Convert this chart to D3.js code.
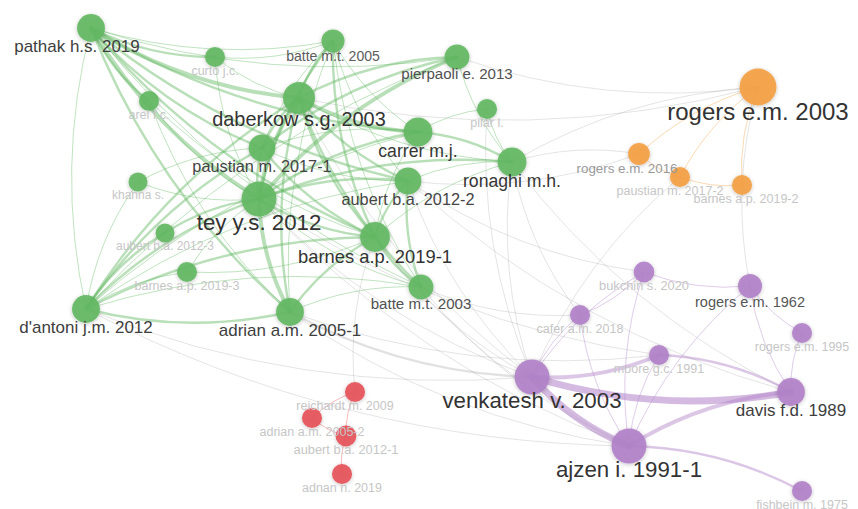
<!DOCTYPE html>
<html>
<head>
<meta charset="utf-8">
<script src="https://cdn.jsdelivr.net/npm/d3@7"></script>
<style>
  body { margin: 0; background: #fff; }
  svg { display: block; }
</style>
</head>
<body>
<div id="wrapper"></div>
<script>
// 1. Data (co-citation map, VOSviewer style)

const nodeIds = ["pathak","curto","batte05","pierpaoli","arel","daberkow","pilar","carrer","paustian1","ronaghi",
  "aubert2","khanna","tey","aubert3","barnes1","barnes3","batte03","dantoni","adrian1",
  "rogers03","rogers16","paustian2","barnes2",
  "bukchin","rogers62","cafer","rogers95","moore","venkatesh","davis","ajzen","fishbein",
  "reichardt","adrian2","aubert1","adnan"];

const nodeLabels = ["pathak h.s. 2019","curto j.c.","batte m.t. 2005","pierpaoli e. 2013","arel f.c.","daberkow s.g. 2003","pilar l.","carrer m.j.","paustian m. 2017-1","ronaghi m.h.",
  "aubert b.a. 2012-2","khanna s.","tey y.s. 2012","aubert b.a. 2012-3","barnes a.p. 2019-1","barnes a.p. 2019-3","batte m.t. 2003","d'antoni j.m. 2012","adrian a.m. 2005-1",
  "rogers e.m. 2003","rogers e.m. 2016","paustian m. 2017-2","barnes a.p. 2019-2",
  "bukchin s. 2020","rogers e.m. 1962","cafer a.m. 2018","rogers e.m. 1995","moore g.c. 1991","venkatesh v. 2003","davis f.d. 1989","ajzen i. 1991-1","fishbein m. 1975",
  "reichardt m. 2009","adrian a.m. 2005-2","aubert b.a. 2012-1","adnan n. 2019"];

const nodeCluster = [2,2,2,2,2,2,2,2,2,2, 2,2,2,2,2,2,2,2,2, 3,3,3,3, 4,4,4,4,4,4,4,4,4, 1,1,1,1];

// layout coordinates
const layoutX = [91,215,333,457,149,299,487,418,262,512, 408,138,259,165,375,187,421,86,290, 758,639,680,742, 644,750,580,802,659,532,791,629,802, 355,312,346,342];
const layoutY = [28,57,41,57,101,98,109,132,148,162, 181,182,199,233,237,272,287,309,312, 87,154,177,185, 272,286,315,333,355,377,392,446,491, 392,418,436,474];

const citations = [54,28,37,43,28,71,28,58,50,58, 50,25,85,25,62,28,43,54,54, 95,33,28,28, 30,40,28,28,28,85,54,85,28, 28,28,30,28];

const links = [
  // green cluster
  ["pathak","curto",2],["pathak","daberkow",3],["pathak","tey",3],["pathak","paustian1",2],["pathak","dantoni",1],
  ["pathak","arel",2],["pathak","carrer",2],["pathak","aubert2",2],["pathak","barnes1",2],["pathak","adrian1",2],
  ["pathak","batte05",1],["pathak","batte03",1],["pathak","pierpaoli",1],
  ["curto","daberkow",1],["curto","batte05",1],["curto","tey",1],
  ["batte05","daberkow",2],["batte05","tey",2],["batte05","paustian1",1],["batte05","barnes1",2],["batte05","aubert2",1],
  ["batte05","batte03",1],["batte05","adrian1",1],["batte05","carrer",1],
  ["pierpaoli","tey",3],["pierpaoli","daberkow",2],["pierpaoli","paustian1",2],["pierpaoli","dantoni",1],["pierpaoli","ronaghi",1],
  ["arel","tey",1],["arel","barnes1",1],["arel","adrian1",1],
  ["daberkow","carrer",3],["daberkow","tey",3],["daberkow","paustian1",2],["daberkow","aubert2",2],["daberkow","barnes1",2],
  ["daberkow","adrian1",2],["daberkow","dantoni",2],["daberkow","batte03",2],["daberkow","ronaghi",1],
  ["carrer","tey",2],["carrer","paustian1",1],["ronaghi","carrer",2],["carrer","barnes1",1],["carrer","dantoni",1],
  ["paustian1","tey",2],["paustian1","barnes1",2],["paustian1","dantoni",2],["paustian1","aubert2",1],["paustian1","khanna",1],
  ["ronaghi","tey",2],["ronaghi","aubert2",1],["ronaghi","barnes1",1],
  ["aubert2","tey",2],["aubert2","barnes1",2],["aubert2","batte03",2],["aubert2","dantoni",1],
  ["khanna","tey",1],["khanna","dantoni",1],
  ["tey","barnes1",2],["tey","adrian1",3],["tey","dantoni",2],["tey","aubert3",2],["tey","barnes3",1],["tey","batte03",1],
  ["aubert3","dantoni",2],["barnes3","dantoni",1],["barnes3","barnes1",1],
  ["barnes1","batte03",2],["barnes1","adrian1",2],["barnes1","dantoni",2],
  ["batte03","adrian1",1],["batte03","dantoni",1],["dantoni","adrian1",2],
  // orange cluster
  ["pierpaoli","rogers03",1],["daberkow","rogers03",1],["rogers03","rogers16",1],["rogers03","paustian2",1],["rogers03","barnes2",1],
  ["rogers03","rogers62",1],["rogers03","ronaghi",1],["rogers16","ronaghi",1],["rogers16","paustian2",1],["paustian2","barnes2",1],
  ["aubert2","rogers16",1],["paustian2","venkatesh",1],
  // purple cluster
  ["venkatesh","davis",5],["venkatesh","ajzen",5],["venkatesh","moore",3],["davis","ajzen",3],["fishbein","ajzen",2],
  ["davis","moore",2],["rogers62","davis",1],["rogers95","davis",1],["rogers62","rogers95",1],["bukchin","rogers62",1],
  ["rogers62","ajzen",1],["bukchin","venkatesh",1],["cafer","bukchin",1],["cafer","venkatesh",1],["cafer","ajzen",1],
  ["moore","ajzen",1],["bukchin","ajzen",1],
  // between clusters
  ["dantoni","venkatesh",1],["adrian1","venkatesh",2],["tey","venkatesh",1],["daberkow","venkatesh",1],["aubert2","venkatesh",1],
  ["barnes1","venkatesh",1],["ronaghi","venkatesh",1],["pilar","venkatesh",1],["dantoni","ajzen",1],["adrian1","ajzen",1],
  ["barnes1","ajzen",1],["batte03","ajzen",1],["tey","ajzen",1],["aubert2","davis",1],["ronaghi","davis",1],
  ["tey","moore",1],["ronaghi","cafer",1],["aubert2","bukchin",1],["pilar","ronaghi",1],["pilar","carrer",1],
  ["batte03","cafer",1],["adrian1","moore",1],
  // red cluster
  ["reichardt","adrian2",1],["reichardt","aubert1",1],["aubert1","adnan",1],["adrian2","aubert1",1],["barnes1","reichardt",1]
];

// 2. Dimensions and styles

const dimensions = { width: 858, height: 509 };

const clusterColor = { 1: "#e6535a", 2: "#63b963", 3: "#f4a043", 4: "#b181c8" };
const labelNudge = { pathak: -14, rogers16: -12, paustian2: -10, barnes2: 4, reichardt: -10 };

// 3. Draw canvas

const wrapper = d3.select("#wrapper")
  .append("svg")
  .attr("width", dimensions.width)
  .attr("height", dimensions.height);

const defs = wrapper.append("defs");
const soft = defs.append("filter").attr("id", "soft")
  .attr("x", "-50%").attr("y", "-50%").attr("width", "200%").attr("height", "200%");
soft.append("feGaussianBlur").attr("in", "SourceAlpha").attr("stdDeviation", 2).attr("result", "b");
soft.append("feOffset").attr("in", "b").attr("dx", 0).attr("dy", 1).attr("result", "o");
soft.append("feComponentTransfer").attr("in", "o").attr("result", "s")
  .append("feFuncA").attr("type", "linear").attr("slope", 0.25);
const merge = soft.append("feMerge");
merge.append("feMergeNode").attr("in", "s");
merge.append("feMergeNode").attr("in", "SourceGraphic");

// 4. Scales

const xScale = d3.scaleLinear().domain([0, 858]).range([0, dimensions.width]);
const yScale = d3.scaleLinear().domain([0, 509]).range([0, dimensions.height]);
const rScale = d3.scaleSqrt().domain([0, 100]).range([0, 19]);
const fontScale = d3.scaleLinear().domain([25, 95]).range([12, 24]);
const labelColor = d3.scaleLinear().domain([30, 37, 60]).range(["#c6c6c6", "#5c5c5c", "#333"]).clamp(true);
const linkWidth = d3.scaleLinear().domain([1, 5]).range([0.9, 7]);

const nodes = nodeIds.map((id, i) => ({
  id, label: nodeLabels[i], cluster: nodeCluster[i],
  x: xScale(layoutX[i]), y: yScale(layoutY[i]), w: citations[i]
}));
const byId = new Map(nodes.map(d => [d.id, d]));

// 5. Draw links

const linkPath = ([s, t]) => {
  const a = byId.get(s), b = byId.get(t);
  const dx = b.x - a.x, dy = b.y - a.y;
  const k = 0.12;
  const cx = (a.x + b.x) / 2 - dy * k, cy = (a.y + b.y) / 2 + dx * k;
  const p = d3.path();
  p.moveTo(a.x, a.y);
  p.quadraticCurveTo(cx, cy, b.x, b.y);
  return p.toString();
};

wrapper.append("g")
  .selectAll("path")
  .data(links.slice().sort((a, b) => a[2] - b[2]))
  .join("path")
  .attr("d", linkPath)
  .attr("fill", "none")
  .attr("stroke", d => {
    const a = byId.get(d[0]), b = byId.get(d[1]);
    return a.cluster === b.cluster ? clusterColor[a.cluster] : "#9a9a9a";
  })
  .attr("stroke-opacity", d => {
    const a = byId.get(d[0]), b = byId.get(d[1]);
    return a.cluster === b.cluster ? (d[2] > 3 ? 0.55 : 0.45) : 0.3;
  })
  .attr("stroke-width", d => linkWidth(d[2]))
  .attr("stroke-linecap", "round");

// 6. Draw nodes

wrapper.append("g")
  .selectAll("circle")
  .data(nodes)
  .join("circle")
  .attr("cx", d => d.x)
  .attr("cy", d => d.y)
  .attr("r", d => rScale(d.w))
  .attr("fill", d => clusterColor[d.cluster])
  .attr("fill-opacity", 0.92)
  .attr("filter", "url(#soft)");

// 7. Labels

wrapper.append("g")
  .attr("font-family", "'Liberation Sans', Arial, sans-serif")
  .attr("text-anchor", "middle")
  .selectAll("text")
  .data(nodes.slice().sort((a, b) => a.w - b.w))
  .join("text")
  .attr("x", d => d.x + (labelNudge[d.id] || 0))
  .attr("y", d => d.y + rScale(d.w) + fontScale(d.w) * 0.62)
  .attr("font-size", d => fontScale(d.w))
  .attr("fill", d => labelColor(d.w))
  .text(d => d.label);
</script>
</body>
</html>
